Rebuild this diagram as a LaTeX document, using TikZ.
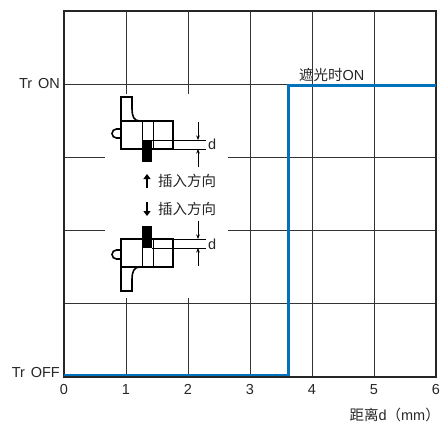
\documentclass[tikz,border=0pt]{standalone}
\usepackage{fontspec}
\setmainfont{Liberation Sans}
\newfontfamily\cjk{Noto Sans CJK SC}
\usetikzlibrary{arrows.meta}

\definecolor{onblue}{RGB}{0,114,188}

\tikzset{
	grid line/.style={draw=black!80, line width=0.7pt},
	frame line/.style={draw=black!85, line width=1.2pt},
	label text/.style={text=black!85, font=\fontsize{14.5}{17}\selectfont, inner sep=0pt},
	part/.style={draw=black, line width=1.6pt},
	thin part/.style={draw=black, line width=0.6pt},
	dim arrow/.style={-{Stealth[length=4.5pt,width=3.5pt]}, line width=0.6pt},
	move arrow/.style={-{Triangle[length=5pt,width=7pt]}, line width=1.7pt},
}

% one sensor, drawn with the slit at the bottom
\newcommand{\sensorbody}[1]{%
	\draw[part] (121,121) -- (121,97) -- (132,97) -- (132,108)
		.. controls (132,117) and (134,121) .. (140,121);
	\draw[part] (121,129) -- (116.5,129) arc[start angle=270, end angle=90, radius=4.5] -- (121,138);
	\draw[part] (121,121) rectangle (173,149);
	\draw[thin part] (142,121) -- (142,149) (153,121) -- (153,149);
	\draw[thin part] (152,140) -- (206,140) (173,149) -- (206,149);
	\fill[black] (142,140) rectangle (152,162);
	\coordinate (#1 d1) at (198,122);
	\coordinate (#1 d2) at (198,140);
	\coordinate (#1 d3) at (198,167);
	\coordinate (#1 d4) at (198,149);
	\draw[dim arrow] (#1 d1) -- (#1 d2);
	\draw[dim arrow] (#1 d3) -- (#1 d4);
	\node[label text, anchor=west] (#1 d) at (208,144) {d};
}

\begin{document}
\begin{tikzpicture}[x=1pt, y=-1pt]
\useasboundingbox (0,0) rectangle (441,423);

% grid
\foreach \i in {1,...,5}
	\draw[grid line] (64+62*\i,11) -- (64+62*\i,377);
\foreach \j in {1,...,4}
	\draw[grid line] (64,11+73.2*\j) -- (436,11+73.2*\j);
\fill[white] (105,94) rectangle (228,298);
\draw[frame line] (64,11) rectangle (436,377);

% output
\draw[onblue, line width=2.8pt] (64,375) -- (288.5,375) -- (288.5,85.5) -- (436,85.5);

% sensors
\begin{scope}
	\sensorbody{up}
\end{scope}
\begin{scope}[shift={(0,388)}, yscale=-1]
	\sensorbody{down}
\end{scope}

% insertion direction
\node[label text, anchor=west] (up text) at (158,181) {\cjk 插入方向};
\node[label text, anchor=west] (down text) at (158,209) {\cjk 插入方向};
\coordinate (up tail) at (147,188);
\coordinate (up head) at (147,174);
\coordinate (down tail) at (147,202);
\coordinate (down head) at (147,216);
\draw[move arrow] (up tail) -- (up head);
\draw[move arrow] (down tail) -- (down head);

% labels
\node[label text, anchor=east] (on) at (60,84) {Tr\hspace{0.4em}ON};
\node[label text, anchor=east] (off) at (60,373) {Tr\hspace{0.4em}OFF};
\node[label text, anchor=west] (shade) at (299,75) {{\cjk 遮光时}ON};
\foreach \i in {0,...,6}
	\node[label text, anchor=north] (tick\i) at (64+62*\i,384) {\i};
\node[label text, anchor=east] (xlabel) at (440,415) {{\cjk 距离}d{\cjk （}mm{\cjk ）}};
\end{tikzpicture}
\end{document}
